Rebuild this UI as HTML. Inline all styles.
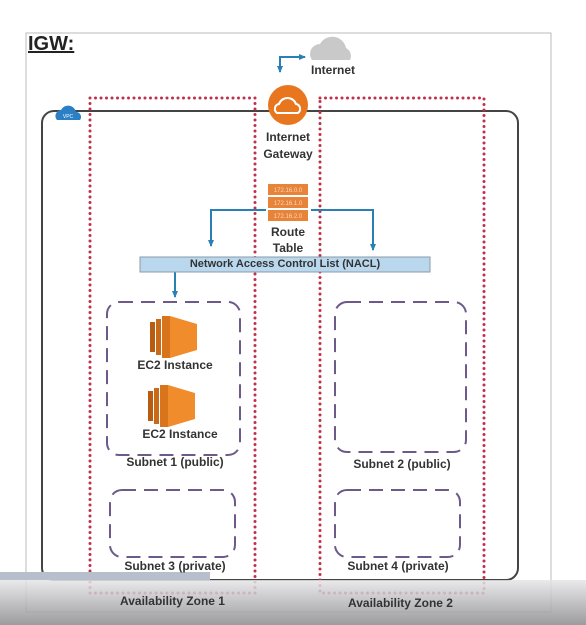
<!DOCTYPE html>
<html><head><meta charset="utf-8"><style>
body{margin:0;width:586px;height:625px;background:#fff;overflow:hidden;position:relative;font-family:"Liberation Sans",sans-serif}
.t{position:absolute;font-weight:bold;color:#333;font-size:12px;text-align:center;white-space:nowrap}
</style></head><body>
<svg width="586" height="625" style="position:absolute;left:0;top:0">
<defs><marker id="a" markerUnits="userSpaceOnUse" markerWidth="8" markerHeight="8" refX="6" refY="4" orient="auto"><path d="M0,1 L7,4 L0,7z" fill="#2a7fb5"/></marker>
<linearGradient id="g" x1="0" y1="0" x2="0" y2="1"><stop offset="0" stop-color="#e6e6e8"/><stop offset="1" stop-color="#8a8a8e"/></linearGradient></defs>
<rect x="26" y="33" width="525" height="579" fill="#fff" stroke="#bbb"/>
<rect x="42" y="111" width="476" height="469" rx="12" fill="none" stroke="#444" stroke-width="2"/>
<rect x="90" y="98" width="165" height="495" fill="none" stroke="#c0304a" stroke-width="3" stroke-dasharray="0,5.5" stroke-linecap="round"/>
<rect x="320" y="98" width="164" height="495" fill="none" stroke="#c0304a" stroke-width="3" stroke-dasharray="0,5.5" stroke-linecap="round"/>
<g fill="none" stroke="#6e5a8a" stroke-width="2" stroke-dasharray="14,8">
<rect x="107" y="302" width="133" height="153" rx="12"/>
<rect x="335" y="302" width="131" height="150" rx="12"/>
<rect x="110" y="490" width="125" height="67" rx="12"/>
<rect x="335" y="490" width="125" height="67" rx="12"/>
</g>
<path d="M312,60 a10,10 0 0,1 8,-16 a14,14 0 0,1 26,4 a9,9 0 0,1 4,12z" fill="#c9c9c9"/>
<g fill="none" stroke="#2a7fb5" stroke-width="2">
<path d="M280,63 V57 H305" marker-end="url(#a)"/>
<path d="M280,60 V72" marker-end="url(#a)"/>
<path d="M266,210 H211 V246" marker-end="url(#a)"/>
<path d="M311,210 H373 V250" marker-end="url(#a)"/>
<path d="M175,272 V297" marker-end="url(#a)"/>
</g>
<circle cx="288" cy="105" r="20" fill="#e8761e"/>
<path d="M277,113 a5,5 0 0,1 2,-9 a9,9 0 0,1 17,0 a5,5 0 0,1 2,9z" fill="none" stroke="#fff" stroke-width="2"/>
<path d="M57,120 a6,6 0 0,1 4,-10 a8,8 0 0,1 15,2 a5,5 0 0,1 4,8z" fill="#2a7fc5"/>
<text x="68" y="118" font-size="5" fill="#fff" text-anchor="middle" font-family="Liberation Sans">VPC</text>
<g fill="#e8833a"><rect x="268" y="184" width="40" height="11"/><rect x="268" y="197" width="40" height="11"/><rect x="268" y="210" width="40" height="11"/></g>
<g font-size="6" fill="#fbd9b8" text-anchor="middle" font-family="Liberation Sans"><text x="288" y="192">172.16.0.0</text><text x="288" y="205">172.16.1.0</text><text x="288" y="218">172.16.2.0</text></g>
<rect x="140" y="257" width="290" height="15" fill="#b9d8ee" stroke="#8a9aa8"/>
<g><rect x="150" y="322" width="5" height="30" fill="#b85c12"/><rect x="156" y="319" width="5" height="36" fill="#c86a18"/><rect x="162" y="316" width="8" height="42" fill="#d8741c"/><polygon points="170,316 197,324 197,350 170,358" fill="#f08c2c"/></g>
<g><rect x="148" y="391" width="5" height="30" fill="#b85c12"/><rect x="154" y="388" width="5" height="36" fill="#c86a18"/><rect x="160" y="385" width="8" height="42" fill="#d8741c"/><polygon points="168,385 195,393 195,419 168,427" fill="#f08c2c"/></g>
<rect x="0" y="572" width="210" height="8" fill="#b8bfcc"/>
<rect x="0" y="580" width="586" height="45" fill="url(#g)" opacity="0.85"/>
</svg>
<div class="t" style="left:303px;top:63px;width:60px">Internet</div>
<div class="t" style="left:28px;top:33px;font-size:20px;text-decoration:underline;color:#222">IGW:</div>
<div class="t" style="left:248px;top:129px;width:80px;line-height:17px">Internet<br>Gateway</div>
<div class="t" style="left:248px;top:224px;width:80px;line-height:16px">Route<br>Table</div>
<div class="t" style="left:140px;top:258px;width:290px;font-size:11px">Network Access Control List (NACL)</div>
<div class="t" style="left:130px;top:358px;width:90px">EC2 Instance</div>
<div class="t" style="left:130px;top:427px;width:100px">EC2 Instance</div>
<div class="t" style="left:115px;top:455px;width:120px">Subnet 1 (public)</div>
<div class="t" style="left:342px;top:457px;width:120px">Subnet 2 (public)</div>
<div class="t" style="left:115px;top:559px;width:120px">Subnet 3 (private)</div>
<div class="t" style="left:338px;top:559px;width:120px">Subnet 4 (private)</div>
<div class="t" style="left:110px;top:594px;width:125px">Availability Zone 1</div>
<div class="t" style="left:338px;top:596px;width:125px">Availability Zone 2</div>
</body></html>
